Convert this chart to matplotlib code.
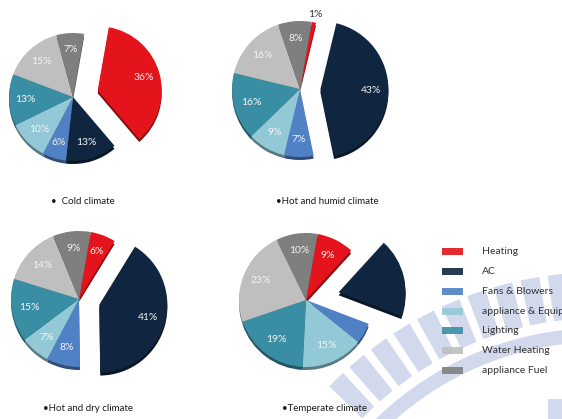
import numpy as np
import matplotlib
matplotlib.use("Agg")
import matplotlib.pyplot as plt
from matplotlib.patches import Rectangle, Wedge, Polygon
import matplotlib.colors as mcolors

plt.rcParams['font.family'] = ['Lato', 'DejaVu Sans']

# End-use categories and their colours
categories = ["Heating", "AC", "Fans & Blowers", "appliance & Equipment",
              "Lighting", "Water Heating", "appliance Fuel"]
colors = ["#e3141b", "#10253f", "#4f81c4", "#93c9d6", "#3a8ea4", "#bfbfbf", "#7f7f7f"]

# Share of energy use (%) by climate
cold = [36, 13, 6, 10, 13, 15, 7]
hot_humid = [1, 43, 7, 9, 16, 16, 8]
hot_dry = [6, 41, 8, 7, 15, 14, 9]
temperate = [9, 19, 5, 15, 19, 23, 10]

titles = ["\u2022  Cold climate", "\u2022Hot and humid climate",
          "\u2022Hot and dry climate", "\u2022Temperate climate"]

W, H = 562, 419
fig = plt.figure(figsize=(W / 100, H / 100), dpi=100)
ax = fig.add_axes([0, 0, 1, 1])


def Y(y):
    return H - y


# faint emblem in the lower right corner: a ring with rays around it
wm = "#d2d9ed"
wcx, wcy = 600, 650
ax.add_patch(Wedge((wcx, Y(wcy)), 322, 85, 150, width=14, facecolor=wm,
                   edgecolor="none", zorder=0))
for a in np.arange(96.5, 137, 4.2):
    t1, t2 = np.radians(a - 1.45), np.radians(a + 1.45)
    r1, r2 = 332, 378
    pts = [(wcx + r1 * np.cos(t1), Y(wcy) + r1 * np.sin(t1)),
           (wcx + r2 * np.cos(t1), Y(wcy) + r2 * np.sin(t1)),
           (wcx + r2 * np.cos(t2), Y(wcy) + r2 * np.sin(t2)),
           (wcx + r1 * np.cos(t2), Y(wcy) + r1 * np.sin(t2))]
    ax.add_patch(Polygon(pts, closed=True, facecolor=wm, edgecolor="none", zorder=0))
ax.add_patch(Rectangle((548, 0), 20, Y(399), facecolor=wm, edgecolor="none", zorder=0))


def darker(c, f=0.6):
    r, g, b = mcolors.to_rgb(c)
    return (r * f, g * f, b * f)


def draw_pie(values, cx, cy, r, explode_idx, explode_frac, hidden=(), outside=()):
    expl = [explode_frac * r if i == explode_idx else 0 for i in range(len(values))]
    # slab underneath for a bit of depth
    ax.pie(values, colors=[darker(c) for c in colors], startangle=80, counterclock=False,
           explode=expl, center=(cx, Y(cy) - 3), radius=r,
           wedgeprops=dict(linewidth=0, zorder=2))
    wedges, _ = ax.pie(values, colors=colors, startangle=80, counterclock=False,
                       explode=expl, center=(cx, Y(cy)), radius=r,
                       wedgeprops=dict(linewidth=0, zorder=3))
    for i, (w, v) in enumerate(zip(wedges, values)):
        if i in hidden:
            continue
        th = np.radians((w.theta1 + w.theta2) / 2)
        x0, y0 = w.center
        if i in outside:
            d = r * 1.12
            col = "#333333"
        else:
            d = r * 0.74
            col = "#f4f4f4"
        ax.text(x0 + d * np.cos(th), y0 + d * np.sin(th), f"{v}%", ha="center", va="center",
                fontsize=7.5, color=col, zorder=5)


draw_pie(cold, 73, 97, 64, 0, 0.40)
draw_pie(hot_humid, 300, 89, 68, 1, 0.30, outside=(0,))
draw_pie(hot_dry, 79, 299, 68, 1, 0.31)
draw_pie(temperate, 306, 300, 67, 1, 0.50, hidden=(1, 2))

title_pos = [(83, 201), (327, 201), (88, 408), (324, 408)]
for (tx, ty), t in zip(title_pos, titles):
    ax.text(tx, Y(ty), t, ha="center", va="center", fontsize=7, color="#1a1a1a", zorder=5)

# legend
for i, (name, c) in enumerate(zip(categories, colors)):
    yy = 252 + i * 19.7
    ax.add_patch(Rectangle((442, Y(yy) - 3.5), 21, 7, facecolor=c, edgecolor="none",
                           alpha=0.9, zorder=4))
    ax.text(482, Y(yy), name, ha="left", va="center", fontsize=7.5, color="#333333",
            zorder=5, clip_on=False)

ax.set_xlim(0, W)
ax.set_ylim(0, H)
ax.set_aspect("auto")
ax.axis("off")
fig.savefig("out.png", dpi=100)
